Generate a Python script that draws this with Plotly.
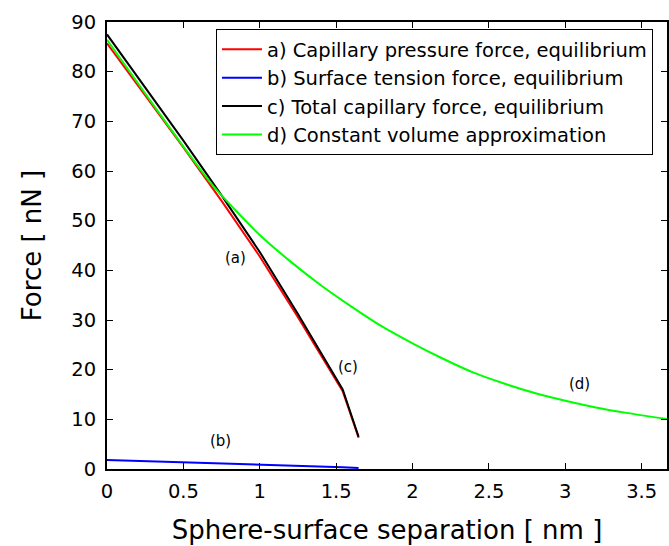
import plotly.graph_objects as go

# Equilibrium curves (a), (b), (c)
x_eq = [0, 0.25, 0.5, 0.75, 1.0, 1.25, 1.4, 1.543, 1.647]
f_total = [87.5, 76.9, 66.1, 55.1, 43.7, 31.2, 23.5, 16.0, 6.5]
f_surface = [1.8, 1.58, 1.35, 1.12, 0.9, 0.65, 0.5, 0.36, 0.2]
f_pressure = [85.7, 75.3, 64.75, 54.0, 42.8, 30.55, 23.0, 15.65, 6.3]

# Constant volume approximation (d)
x_cv = [0, 0.25, 0.5, 0.7, 1.0, 1.2, 1.4, 1.6, 1.8, 2.0, 2.2, 2.4, 2.6, 2.8, 3.0, 3.2, 3.4, 3.7]
f_cv = [86.4, 75.6, 64.9, 56.8, 47.1, 41.8, 37.0, 32.7, 28.7, 25.3, 22.2, 19.4, 17.2, 15.3, 13.75, 12.4, 11.3, 9.9]

names = ["a) Capillary pressure force, equilibrium",
         "b) Surface tension force, equilibrium",
         "c) Total capillary force, equilibrium",
         "d) Constant volume approximation"]

x_ticks = [0, 0.5, 1, 1.5, 2, 2.5, 3, 3.5]
x_tick_text = ["0", "0.5", "1", "1.5", "2", "2.5", "3", "3.5"]
y_ticks = [0, 10, 20, 30, 40, 50, 60, 70, 80, 90]

labels = ["(a)", "(b)", "(c)", "(d)"]
label_x = [0.84, 0.74, 1.575, 3.09]
label_y = [42.4, 5.6, 20.5, 17.2]

FONT = "DejaVu Sans, Liberation Sans, Arial, sans-serif"

fig = go.Figure()
fig.add_trace(go.Scatter(x=x_eq, y=f_pressure, mode="lines", name=names[0],
                         line=dict(color="#ff0000", width=2)))
fig.add_trace(go.Scatter(x=x_eq, y=f_surface, mode="lines", name=names[1],
                         line=dict(color="#0000ff", width=2)))
fig.add_trace(go.Scatter(x=x_eq, y=f_total, mode="lines", name=names[2],
                         line=dict(color="#000000", width=2)))
fig.add_trace(go.Scatter(x=x_cv, y=f_cv, mode="lines", name=names[3],
                         line=dict(color="#00ff00", width=2, shape="spline", smoothing=0.6)))

for t, lx, ly in zip(labels, label_x, label_y):
    fig.add_annotation(x=lx, y=ly, text=t, showarrow=False,
                       font=dict(family=FONT, size=15, color="black"))

fig.update_layout(
    width=669, height=546,
    margin=dict(l=107, r=0, t=22, b=77),
    paper_bgcolor="white", plot_bgcolor="white",
    font=dict(family=FONT, color="black"),
    showlegend=True,
    legend=dict(x=0.975, y=0.984, xanchor="right", yanchor="top",
                bordercolor="black", borderwidth=1, bgcolor="white",
                font=dict(family=FONT, size=19.5, color="black"),
                itemwidth=40, tracegroupgap=0),
    xaxis=dict(range=[0, 3.666], tickvals=x_ticks, ticktext=x_tick_text,
               ticks="inside", ticklen=6, tickwidth=1, tickcolor="black",
               showline=True, linecolor="black", linewidth=2, mirror="ticks",
               showgrid=False, zeroline=False, ticklabelstandoff=4,
               tickfont=dict(family=FONT, size=19.5, color="black"),
               title=dict(text="Sphere-surface separation [ nm ]",
                          font=dict(family=FONT, size=26, color="black"), standoff=18)),
    yaxis=dict(range=[0, 90], tickvals=y_ticks,
               ticks="inside", ticklen=6, tickwidth=1, tickcolor="black",
               showline=True, linecolor="black", linewidth=2, mirror="ticks",
               showgrid=False, zeroline=False, ticklabelstandoff=5,
               tickfont=dict(family=FONT, size=19.5, color="black"),
               title=dict(text="Force [ nN ]",
                          font=dict(family=FONT, size=26, color="black"), standoff=22)),
)

fig.write_html("out.html")
